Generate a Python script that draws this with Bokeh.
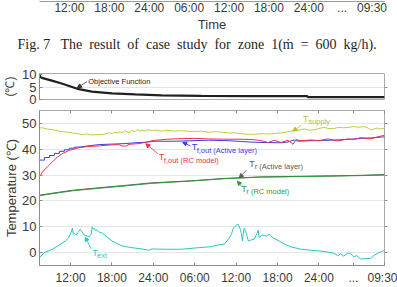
from bokeh.plotting import figure
from bokeh.layouts import column
from bokeh.models import (Range1d, FixedTicker, LinearAxis, Label, Title, Arrow, NormalHead,
                          CustomLabelingPolicy)
from bokeh.embed import file_html
from bokeh.resources import INLINE

# ---- time axis (hours counted from 00:00 of the first day) ----
T_START, T_END = 7.5, 57.5
tick_hours = [12, 18, 24, 30, 36, 42, 48, 53, 57.5]
tick_labels = ["12:00", "18:00", "24:00", "06:00", "12:00", "18:00", "24:00", "...", "09:30"]

# ---- objective function (deg C) ----
obj_t = [7.5, 7.6, 7.85, 9.4, 10.6, 11.8, 13.2, 15.1, 18.0, 21.4, 25.2, 31.0, 38.2, 46.3, 46.4, 57.5]
obj_v = [10.2, 9.2, 8.8, 7.6, 6.6, 5.5, 4.2, 3.2, 2.5, 2.1, 1.7, 1.45, 1.4, 1.35, 1.0, 0.95]

# ---- supply water temperature ----
sup_t = [7.5, 7.93, 8.65, 9.37, 10.09, 10.81, 11.53, 12.26, 12.98, 13.7, 14.42, 15.14, 15.86,
         16.58, 17.3, 17.73, 18.02, 18.31, 18.74, 19.17, 19.46, 19.89, 20.18, 20.47, 20.9,
         21.33, 21.62, 22.05, 22.34, 22.77, 23.21, 23.78, 24.5, 25.22, 25.94, 27.1, 28.11,
         29.55, 30.99, 32.0, 33.15, 34.88, 36.03, 36.75, 37.76, 38.62, 39.63, 40.64, 41.51,
         42.51, 43.52, 43.96, 44.39, 45.11, 45.83, 46.55, 47.27, 47.99, 48.71, 49.43, 50.15,
         50.87, 51.59, 52.31, 53.03, 53.76, 54.48, 55.05, 55.48, 55.92, 56.49, 56.93, 57.5]
sup_v = [48.2, 48.3, 47.8, 47.6, 47.2, 46.8, 46.6, 46.3, 46.1, 45.7, 45.9, 45.5, 45.7,
         45.7, 46.1, 46.4, 45.9, 46.6, 46.3, 46.8, 46.3, 47.2, 46.8, 46.4, 47.2,
         46.8, 47.6, 47.0, 47.4, 47.0, 47.6, 47.2, 47.4, 47.0, 47.4, 47.0, 47.2,
         46.8, 47.0, 46.6, 46.8, 46.3, 46.3, 46.0, 45.8, 45.8, 46.0, 45.9, 46.1,
         46.3, 46.8, 47.0, 47.5, 47.4, 47.9, 47.4, 47.5, 48.0, 48.5, 48.0, 48.0,
         48.5, 48.3, 48.5, 48.8, 48.5, 48.8, 48.3, 47.5, 47.8, 48.2, 47.8, 48.2]

# ---- floor outlet temperature, active-layer model ----
fa_t = [7.5, 7.5, 8.22, 8.22, 8.94, 8.94, 9.66, 9.66, 10.38, 10.38, 11.1, 11.1, 11.82, 11.82,
        12.54, 12.54, 13.5, 14.5, 16.15, 18.0, 19.9, 21.9, 22.8, 24.2, 27.1, 32.0, 35.0,
        36.75, 38.6, 40.6, 42.5, 43.5, 44.4, 45.0, 46.8, 49.7, 52.2, 54.0, 55.5, 57.5]
fa_v = [-4.5, 35.8, 35.8, 36.8, 36.8, 37.6, 37.6, 38.4, 38.4, 39.2, 39.2, 39.8, 39.8, 40.4,
        40.4, 40.8, 40.9, 41.3, 41.8, 42.0, 42.2, 42.6, 42.7, 43.1, 43.1, 43.5, 43.3,
        43.0, 42.7, 42.6, 42.5, 42.8, 43.6, 43.1, 43.3, 43.5, 43.8, 44.2, 44.4, 44.8]

# ---- floor outlet temperature, RC model ----
fr_t = [7.5, 7.5, 7.93, 8.65, 9.37, 10.09, 10.81, 11.82, 13.26, 14.7, 16.15, 18.02, 19.0,
        19.46, 20.0, 20.47, 21.91, 22.77, 24.0, 26.0, 28.0, 30.0, 32.0, 34.0, 36.0, 38.0,
        39.2, 39.63, 40.64, 41.51, 42.51, 43.52, 44.24, 44.68, 45.5, 46.84, 48.0, 49.29,
        50.73, 52.17, 53.0, 54.04, 55.48, 56.5, 57.5]
fr_v = [55.0, 29.4, 31.2, 33.2, 35.1, 37.0, 38.3, 39.6, 40.6, 41.1, 41.3, 41.7, 41.8,
        41.3, 41.2, 41.9, 42.2, 42.6, 43.4, 43.9, 44.1, 44.2, 44.0, 43.9, 43.9, 43.8,
        43.5, 43.3, 42.6, 43.5, 42.6, 43.5, 41.9, 43.7, 43.3, 43.6, 43.3, 44.0,
        43.2, 44.0, 43.7, 44.5, 44.0, 44.8, 45.4]

# ---- room temperature, both models ----
tr_t = [7.5, 9.37, 12.26, 16.15, 19.89, 23.78, 29.55, 34.3, 39.63, 45.0, 50.0, 54.0, 57.5]
tr_active = [22.2, 23.0, 24.1, 25.1, 26.0, 27.0, 27.8, 28.7, 29.3, 29.5, 29.7, 29.9, 30.2]
tr_rc = [22.0, 22.8, 23.9, 24.9, 25.8, 26.8, 27.7, 28.6, 29.2, 29.4, 29.6, 29.8, 30.0]

# ---- outdoor air temperature ----
ext_t = [7.5, 8.2, 9.37, 10.38, 11.25, 11.68, 11.82, 12.11, 12.26, 12.4, 12.54, 12.83, 12.98,
         13.26, 13.41, 13.7, 13.98, 14.42, 14.7, 14.99, 15.14, 15.28, 15.43, 15.57, 15.86,
         16.15, 16.58, 17.3, 18.02, 18.74, 19.46, 20.9, 22.34, 23.35, 23.78, 25.66, 28.11,
         30.55, 32.43, 33.44, 34.3, 34.88, 35.31, 35.6, 36.03, 36.32, 36.61, 36.75, 36.9,
         37.04, 37.18, 37.47, 37.76, 38.19, 38.62, 39.06, 39.2, 39.34, 39.78, 40.35, 40.79,
         41.36, 42.23, 42.95, 43.96, 45.4, 46.84, 47.85, 49.0, 50.15, 50.73, 51.16, 51.59,
         52.17, 52.6, 53.03, 53.47, 54.04, 54.76, 55.48, 55.92, 56.64, 57.36, 57.5]
ext_v = [-1.9, 0.0, 1.3, 3.0, 4.5, 5.6, 6.4, 7.9, 9.5, 7.1, 7.5, 6.8, 7.6,
         8.3, 9.0, 7.9, 6.8, 6.4, 6.1, 7.1, 9.9, 9.0, 9.4, 8.7, 8.7,
         7.9, 7.6, 6.0, 4.5, 3.5, 2.6, 1.9, 1.4, 0.9, 1.4, 1.3, 1.3,
         1.9, 2.3, 3.0, 3.3, 5.2, 7.1, 9.5, 10.7, 10.9, 9.0, 7.5, 4.5,
         7.5, 9.5, 7.5, 4.5, 4.9, 5.2, 7.5, 8.7, 5.7, 6.8, 6.4, 7.1,
         5.7, 4.5, 3.3, 2.2, 1.3, 0.9, 0.7, 0.3, -0.2, -1.2, -0.5, -1.4,
         -0.1, -0.5, -1.6, -1.2, -2.5, -2.2, -2.4, -1.2, -0.1, 0.7, 0.9]

C_SUP = "#c2cc3c"
C_FA = "#3c3ce6"
C_FR = "#ee3048"
C_TRA = "#5a5a5a"
C_TRR = "#2f9a3a"
C_EXT = "#2cc4c4"
SANS = "Liberation Sans"
AXIS_GREY = "#8c8c8c"
TXT = "#3a3a3a"

tick_overrides = {h: lab for h, lab in zip(tick_hours, tick_labels)}


def tick_only_axis(ticks, tick_in, tick_out):
    """An axis that draws tick marks only (its labels are filtered out)."""
    return LinearAxis(ticker=FixedTicker(ticks=ticks),
                      major_label_policy=CustomLabelingPolicy(
                          code="const ks = [...indices]; for (const k of ks) indices.unset(k); return indices"),
                      major_label_text_font_size="1px", major_label_standoff=0,
                      major_tick_in=tick_in, major_tick_out=tick_out,
                      minor_tick_in=0, minor_tick_out=0, axis_line_color=None,
                      major_tick_line_color=AXIS_GREY)


# ------------------------------------------------------------------
# strip with the time axis of the figure above and the caption
# ------------------------------------------------------------------
strip = figure(width=397, height=55, x_range=Range1d(T_START, T_END + 13 / 6.94),
               y_range=Range1d(0, 1), title=None, y_axis_location=None,
               output_backend="svg", toolbar_location=None,
               min_border_left=37, min_border_right=0, min_border_top=0, min_border_bottom=54)
strip.outline_line_color = None
strip.grid.visible = False
sx = strip.xaxis[0]
sx.ticker = FixedTicker(ticks=tick_hours)
sx.major_label_overrides = tick_overrides
sx.major_tick_in = 0
sx.major_tick_out = 0
sx.minor_tick_in = 0
sx.minor_tick_out = 0
sx.axis_line_color = "#9a9a9a"
sx.major_label_standoff = -1
sx.major_label_text_font = SANS
sx.major_label_text_font_size = "12px"
sx.major_label_text_color = TXT
sx.axis_label = "Time"
sx.axis_label_standoff = -1
sx.axis_label_text_font = SANS
sx.axis_label_text_font_size = "13px"
sx.axis_label_text_font_style = "normal"
sx.axis_label_text_color = TXT
caption = ("Fig. 7\u00a0\u00a0 The\u00a0 result\u00a0 of\u00a0 case\u00a0 study\u00a0 for\u00a0 zone\u00a0 "
           "1(\u1e41\u00a0 =\u00a0 600\u00a0 kg/h).")
strip.add_layout(Title(text=caption, align="left", offset=-22, standoff=0,
                       text_font="Liberation Serif", text_font_size="14px",
                       text_font_style="normal", text_color="#1e1e1e"), "below")

# ------------------------------------------------------------------
# objective function panel
# ------------------------------------------------------------------
po = figure(width=397, height=51, x_range=Range1d(T_START, T_END), y_range=Range1d(0, 10.6),
            title=None, x_axis_location=None, output_backend="svg", toolbar_location=None,
            min_border_left=37, min_border_right=13, min_border_top=18, min_border_bottom=7)
po.outline_line_color = "#a8a8a8"
po.xgrid.visible = False
po.ygrid.grid_line_color = "#e4e4e4"
po.ygrid.ticker = FixedTicker(ticks=[5])
oy = po.yaxis[0]
oy.ticker = FixedTicker(ticks=[0, 5, 10])
oy.major_tick_in = 3
oy.major_tick_out = 0
oy.minor_tick_in = 0
oy.minor_tick_out = 0
oy.axis_line_color = AXIS_GREY
oy.major_tick_line_color = AXIS_GREY
oy.major_label_standoff = 3
oy.major_label_text_font = SANS
oy.major_label_text_font_size = "13px"
oy.major_label_text_color = TXT
oy.axis_label = "(\u2103)"
oy.axis_label_standoff = 2
oy.axis_label_text_font = SANS
oy.axis_label_text_font_size = "12px"
oy.axis_label_text_font_style = "normal"
oy.axis_label_text_color = TXT
po.add_layout(tick_only_axis([5], 0, 3), "right")
po.line(obj_t, obj_v, line_color="#202020", line_width=2.2)
po.add_layout(Label(x=14.56, y=5.4, text="Objective Function", text_font=SANS,
                    text_font_size="7.5px", text_color="#222222"))
po.add_layout(Arrow(end=NormalHead(size=4, fill_color="#333333", line_color="#333333"),
                    x_start=14.4, y_start=7.3, x_end=12.98, y_end=4.8,
                    line_color="#333333", line_width=0.8))

# ------------------------------------------------------------------
# temperature panel
# ------------------------------------------------------------------
p = figure(width=397, height=181, x_range=Range1d(T_START, T_END), y_range=Range1d(-5, 55),
           title=None, output_backend="svg", toolbar_location=None,
           min_border_left=37, min_border_right=13, min_border_top=1, min_border_bottom=22)
p.outline_line_color = "#a8a8a8"
p.xgrid.visible = False
p.ygrid.grid_line_color = "#e6e6e6"
p.ygrid.ticker = FixedTicker(ticks=[0, 10, 20, 30, 40, 50])

bx = p.xaxis[0]
bx.ticker = FixedTicker(ticks=tick_hours)
bx.major_label_overrides = tick_overrides
bx.major_tick_in = 3
bx.major_tick_out = 0
bx.minor_tick_in = 0
bx.minor_tick_out = 0
bx.axis_line_color = AXIS_GREY
bx.major_tick_line_color = AXIS_GREY
bx.major_label_standoff = 5
bx.major_label_text_font = SANS
bx.major_label_text_font_size = "12px"
bx.major_label_text_color = TXT

ly = p.yaxis[0]
ly.ticker = FixedTicker(ticks=[0, 10, 20, 30, 40, 50])
ly.major_tick_in = 3
ly.major_tick_out = 0
ly.minor_tick_in = 0
ly.minor_tick_out = 0
ly.axis_line_color = AXIS_GREY
ly.major_tick_line_color = AXIS_GREY
ly.major_label_standoff = 3
ly.major_label_text_font = SANS
ly.major_label_text_font_size = "13px"
ly.major_label_text_color = TXT
ly.axis_label = "Temperature (\u2103)"
ly.axis_label_standoff = 0
ly.axis_label_text_font = SANS
ly.axis_label_text_font_size = "13px"
ly.axis_label_text_font_style = "normal"
ly.axis_label_text_color = TXT

p.add_layout(tick_only_axis(tick_hours, 3, 0), "above")
p.add_layout(tick_only_axis([0, 10, 20, 30, 40, 50], 0, 3), "right")

p.line(sup_t, sup_v, line_color=C_SUP, line_width=1)
p.line(tr_t, tr_active, line_color=C_TRA, line_width=1)
p.line(tr_t, tr_rc, line_color=C_TRR, line_width=1)
p.line(ext_t, ext_v, line_color=C_EXT, line_width=1)
p.line(fa_t, fa_v, line_color=C_FA, line_width=1)
p.line(fr_t, fr_v, line_color=C_FR, line_width=1)


def tag(fig, x, y, main, sub, color, sub_dx, sub_dy, main_size="9px", sub_size="7.5px"):
    fig.add_layout(Label(x=x, y=y, text=main, text_font=SANS, text_font_size=main_size,
                         text_color=color))
    fig.add_layout(Label(x=x, y=y, x_offset=sub_dx, y_offset=sub_dy, text=sub, text_font=SANS,
                         text_font_size=sub_size, text_color=color))


def pointer(fig, xs, ys, xe, ye, color):
    fig.add_layout(Arrow(end=NormalHead(size=4, fill_color=color, line_color=color),
                         x_start=xs, y_start=ys, x_end=xe, y_end=ye,
                         line_color=color, line_width=0.8))


tag(p, 45.68, 49.7, "T", "supply", "#b4be30", 5.5, -1.5)
pointer(p, 45.4, 49.3, 44.24, 47.0, "#b4be30")

tag(p, 29.55, 39.0, "T", "f,out (Active layer)", C_FA, 5, -3)
pointer(p, 29.4, 41.3, 28.25, 42.65, C_FA)

tag(p, 24.79, 34.9, "T", "f,out (RC model)", C_FR, 5, -3)
pointer(p, 24.65, 38.3, 22.92, 42.1, C_FR)

tag(p, 37.9, 32.2, "T", "r (Active layer)", C_TRA, 5.5, -1.5)
pointer(p, 37.47, 31.8, 36.46, 29.0, C_TRA)

tag(p, 36.75, 22.7, "T", "r (RC model)", C_TRR, 5, -2)
pointer(p, 36.9, 25.4, 36.18, 27.6, C_TRR)

tag(p, 15.14, -2.0, "T", "ext", C_EXT, 4.5, -2)
pointer(p, 15.0, 1.4, 14.13, 6.0, C_EXT)

p.add_layout(Label(x=32.7, y=-19, y_units="screen", text="Time", text_align="center",
                   text_baseline="top", text_font=SANS, text_font_size="13px",
                   text_color=TXT))

layout = column(strip, po, p, spacing=0)
open("out.html", "w").write(file_html(layout, INLINE))
